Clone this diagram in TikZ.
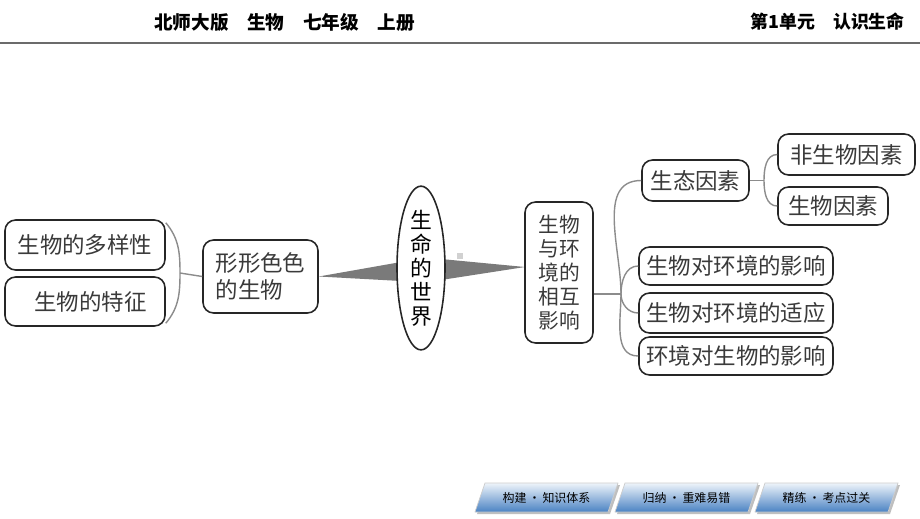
\documentclass[tikz,border=0pt]{standalone}
\usepackage{fontspec}
\setmainfont{Noto Sans CJK SC}
\usetikzlibrary{positioning,calc,shapes.geometric}
\definecolor{txtgray}{HTML}{3A3A3A}
\definecolor{linkgray}{HTML}{8C8C8C}
\definecolor{spikegray}{HTML}{7A7A7A}
\definecolor{tabtop}{HTML}{EEF4FA}
\definecolor{tabbot}{HTML}{4A82C3}
\tikzset{
  box/.style={draw=black!85, line width=.9pt, rounded corners=6pt, inner sep=0pt,
    text=txtgray, font=\fontsize{12.8}{15}\selectfont, align=center},
  link/.style={draw=linkgray, line width=.8pt},
  spike/.style={fill=spikegray},
  tab/.style={font=\fontsize{6.8}{8}\selectfont, text=black}
}
\begin{document}
\begin{tikzpicture}[x=.02cm, y=-.02cm]
	\useasboundingbox (0,0) rectangle (920,518);
	% header
	\node[anchor=west, font=\fontsize{10.6}{12}\selectfont\bfseries] (title) at (148,22) {北师大版\quad 生物\quad 七年级\quad 上册};
	\node[anchor=east, font=\fontsize{10.2}{12}\selectfont\bfseries] (unit) at (911,22) {第1单元\quad 认识生命};
	\draw[line width=1.7pt, black!58] (0,43) -- (920,43);

	% left part
	\node[box, minimum width=3.2cm, minimum height=1cm]   (div)  at (85,245)    {生物的多样性};
	\node[box, minimum width=3.2cm, minimum height=.98cm] (feat) at (85,301.5)  {\hspace{6pt}生物的特征};
	\node[box, minimum width=2.3cm, minimum height=1.46cm, align=left] (forms) at (260.5,276.5) {形形色色\\的生物};
	\coordinate (lj) at (180,273);
	\draw[link] ([yshift=-2pt]div.north east) to[out=-50, in=90] (lj) to[out=-90, in=50] ([yshift=2pt]feat.south east);
	\draw[link] (lj) -- (forms.west);

	% centre
	\coordinate (wc) at (421,268);
	\fill[spike] (forms.east) -- ($(wc)+(-20,-6)$) -- ($(wc)+(-20,13)$) -- cycle;
	\fill[spike] ($(wc)+(20,-9)$) -- (525,267) -- ($(wc)+(20,12)$) -- cycle;
	\node[ellipse, draw=black!85, line width=.9pt, fill=white, minimum width=.96cm, minimum height=3.06cm, inner sep=0pt,
	      font=\fontsize{12.4}{13.6}\selectfont, align=center] (world) at (wc) {生\\命\\的\\世\\界};
	\fill[black!18] (457,253) rectangle (463,259);
	\node[box, minimum width=1.36cm, minimum height=2.82cm, font=\fontsize{11.8}{13.6}\selectfont] (env) at (559,272.5) {生物\\与环\\境的\\相互\\影响};

	% right part
	\node[box, minimum width=2.14cm, minimum height=.82cm] (eco)  at (695.5,180.5) {生态因素};
	\node[box, minimum width=2.74cm, minimum height=.82cm] (abio) at (846.5,154.5) {非生物因素};
	\node[box, minimum width=2.2cm,  minimum height=.76cm] (bio)  at (833,206)     {生物因素};
	\node[box, minimum width=3.88cm, minimum height=.76cm] (infl) at (736,266)     {生物对环境的影响};
	\node[box, minimum width=3.88cm, minimum height=.8cm]  (adap) at (736,313)     {生物对环境的适应};
	\node[box, minimum width=3.88cm, minimum height=.76cm] (back) at (736,356)     {环境对生物的影响};

	\coordinate (rj) at (621,294);
	\draw[link] (env.east |- rj) -- (rj);
	\draw[link] (rj) to[out=90, in=180] (eco.west);
	\draw[link] (rj) to[out=90, in=180] (infl.west);
	\draw[link] (rj) to[out=-90, in=180] (adap.west);
	\draw[link] (rj) to[out=-90, in=180] (back.west);
	\coordinate (ej) at (764,180.5);
	\draw[link] (eco.east) -- (ej);
	\draw[link] (ej) to[out=90, in=180] (abio.west);
	\draw[link] (ej) to[out=-90, in=180] (bio.west);

	% bottom tabs
	\foreach \x/\txt [count=\i] in {475/构建\,·\,知识体系, 615/归纳\,·\,重难易错, 755/精练\,·\,考点过关} {
		\fill[black!25] (\x+2,514) -- (\x+12,485) -- (\x+145,485) -- (\x+135,514) -- cycle;
		\shade[top color=tabtop, bottom color=tabbot, draw=white!80!black, line width=.4pt]
			(\x,512) -- (\x+10,483) -- (\x+143,483) -- (\x+133,512) -- cycle;
		\node[tab] (tab\i) at (\x+71.5,497.5) {\txt};
	}
\end{tikzpicture}
\end{document}
